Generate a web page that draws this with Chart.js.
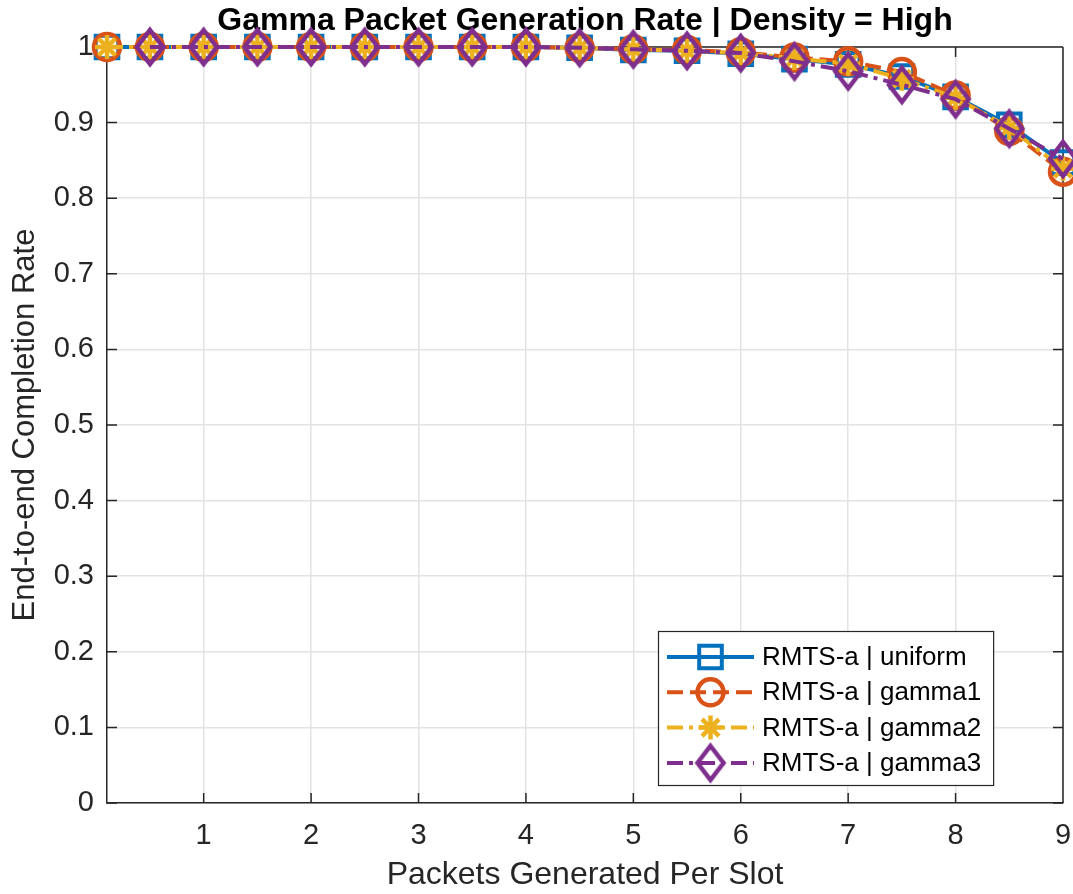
<!DOCTYPE html>
<html><head><meta charset="utf-8">
<script src="https://cdn.jsdelivr.net/npm/chart.js@4/dist/chart.umd.min.js"></script>
<style>html,body{margin:0;padding:0;background:#fff;}#wrap{width:1073px;height:894px;}</style>
</head><body><div id="wrap"><canvas id="c" width="1073" height="894"></canvas></div>
<script>
const xValues = [0.1,0.5,1,1.5,2,2.5,3,3.5,4,4.5,5,5.5,6,6.5,7,7.5,8,8.5,9];
const xTickValues = [1,2,3,4,5,6,7,8,9];
const seriesNames = ['RMTS-a | uniform','RMTS-a | gamma1','RMTS-a | gamma2','RMTS-a | gamma3'];
const uniform = [1,1,1,1,1,1,1,1,1,0.999,0.996,0.995,0.991,0.984,0.977,0.961,0.934,0.897,0.847];
const gamma1  = [1,1,1,1,1,1,1,1,1,0.999,0.997,0.996,0.993,0.986,0.981,0.967,0.936,0.889,0.835];
const gamma2  = [1,1,1,1,1,1,1,1,1,0.999,0.997,0.995,0.992,0.985,0.978,0.958,0.933,0.893,0.839];
const gamma3  = [null,1,1,1,1,1,1,1,1,0.999,0.997,0.995,0.992,0.981,0.968,0.950,0.931,0.892,0.852];

const FONT = '"Liberation Sans", Arial, Helvetica, sans-serif';
const C_BLUE='#0072BD', C_ORANGE='#D95319', C_YELLOW='#EDB120', C_PURPLE='#7E2F8E';

// elongated MATLAB-like diamond marker
const diamond = document.createElement('canvas');
diamond.width = 36; diamond.height = 46;
(function(){
  const g = diamond.getContext('2d');
  g.strokeStyle = C_PURPLE; g.lineWidth = 4.5; g.lineJoin = 'miter';
  g.beginPath(); g.moveTo(18,6); g.lineTo(31,23); g.lineTo(18,40); g.lineTo(5,23); g.closePath(); g.stroke();
})();

function pts(arr){ return xValues.map((x,i)=>({x:x, y:arr[i]})); }

const datasets = [
  {label:seriesNames[0], data:pts(uniform), borderColor:C_BLUE, backgroundColor:'rgba(0,0,0,0)', borderWidth:4,
   pointStyle:'rect', pointRadius:16, pointBorderWidth:4, pointBorderColor:C_BLUE, pointBackgroundColor:'rgba(0,0,0,0)', order:4, borderDash:[]},
  {label:seriesNames[1], data:pts(gamma1), borderColor:C_ORANGE, backgroundColor:'rgba(0,0,0,0)', borderWidth:4,
   pointStyle:'circle', pointRadius:13, pointBorderWidth:4.5, pointBorderColor:C_ORANGE, pointBackgroundColor:'rgba(0,0,0,0)', order:3, borderDash:[16,7]},
  {label:seriesNames[2], data:pts(gamma2), borderColor:C_YELLOW, backgroundColor:'rgba(0,0,0,0)', borderWidth:4,
   pointStyle:'star', pointRadius:12, pointBorderWidth:4.5, pointBorderColor:C_YELLOW, pointBackgroundColor:'rgba(0,0,0,0)', order:2, borderDash:[16,6,4,6]},
  {label:seriesNames[3], data:pts(gamma3), borderColor:C_PURPLE, backgroundColor:'rgba(0,0,0,0)', borderWidth:4,
   pointStyle:diamond, pointRadius:16, pointBorderWidth:4, pointBorderColor:C_PURPLE, pointBackgroundColor:'rgba(0,0,0,0)', order:1, borderDash:[16,6,4,6]}
];
datasets.forEach(d=>{ d.clip = false; d.tension = 0; d.spanGaps = false; d.pointHoverRadius = d.pointRadius; });

const matlabAxes = {
  id:'matlabAxes',
  beforeDatasetsDraw(chart){
    const ctx = chart.ctx, ca = chart.chartArea, xs = chart.scales.x, ys = chart.scales.y;
    ctx.save();
    ctx.strokeStyle = '#262626'; ctx.lineWidth = 1.5; ctx.setLineDash([]);
    ctx.beginPath();
    ctx.moveTo(ca.left, ca.top); ctx.lineTo(ca.right, ca.top);
    ctx.moveTo(ca.right, ca.top); ctx.lineTo(ca.right, ca.bottom);
    const tl = 10;
    xs.ticks.forEach(t=>{ const p = xs.getPixelForValue(t.value);
      ctx.moveTo(p, ca.bottom); ctx.lineTo(p, ca.bottom - tl);
      ctx.moveTo(p, ca.top); ctx.lineTo(p, ca.top + tl); });
    ys.ticks.forEach(t=>{ const p = ys.getPixelForValue(t.value);
      ctx.moveTo(ca.left, p); ctx.lineTo(ca.left + tl, p);
      ctx.moveTo(ca.right, p); ctx.lineTo(ca.right - tl, p); });
    ctx.stroke();
    ctx.restore();
  }
};

const insideLegend = {
  id:'insideLegend',
  afterDraw(chart){
    const ctx = chart.ctx, ca = chart.chartArea;
    ctx.save();
    ctx.font = '26px ' + FONT;
    const ds = chart.data.datasets;
    const tw = Math.max(...ds.map(d=>ctx.measureText(d.label).width));
    const w = 104 + tw + 12, h = 154;
    const x0 = Math.round(ca.right - 70 - w), y0 = Math.round(ca.bottom - 18 - h);
    ctx.fillStyle = '#fff'; ctx.fillRect(x0, y0, w, h);
    ctx.strokeStyle = '#262626'; ctx.lineWidth = 1.2; ctx.strokeRect(x0+0.5, y0+0.5, w, h);
    ds.forEach((d,i)=>{
      const y = y0 + 26 + i*35.3;
      ctx.strokeStyle = d.borderColor; ctx.lineWidth = d.borderWidth;
      ctx.setLineDash(d.borderDash || []);
      ctx.beginPath(); ctx.moveTo(x0+9, y); ctx.lineTo(x0+96, y); ctx.stroke();
      ctx.setLineDash([]);
      ctx.fillStyle = 'rgba(0,0,0,0)';
      ctx.strokeStyle = d.pointBorderColor; ctx.lineWidth = d.pointBorderWidth;
      Chart.helpers.drawPoint(ctx, {pointStyle:d.pointStyle, radius:d.pointRadius, rotation:0, borderWidth:d.pointBorderWidth}, x0+52.5, y);
      ctx.fillStyle = '#000'; ctx.textAlign = 'left'; ctx.textBaseline = 'middle';
      ctx.fillText(d.label, x0+104, y+1);
    });
    ctx.restore();
  }
};

new Chart(document.getElementById('c'), {
  type:'line',
  data:{datasets:datasets},
  options:{
    responsive:false, animation:false, devicePixelRatio:1, events:[],
    layout:{autoPadding:false, padding:{left:0,right:10,top:0,bottom:0}},
    plugins:{
      legend:{display:false}, tooltip:{enabled:false},
      title:{display:true, fullSize:false, text:'Gamma Packet Generation Rate | Density = High', color:'#000',
        font:{family:FONT, size:32, weight:'bold', lineHeight:1.2}, padding:{top:2,bottom:6.6}}
    },
    scales:{
      x:{type:'linear', min:0.1, max:9,
        afterBuildTicks:s=>{ s.ticks = xTickValues.map(v=>({value:v})); },
        afterFit:s=>{ s.height = 91; s.paddingLeft = 0; s.paddingRight = 0; },
        grid:{color:'#e3e3e3', lineWidth:1.5, drawTicks:false},
        border:{color:'#262626', width:1.5},
        ticks:{color:'#262626', font:{family:FONT, size:29}, padding:16, maxRotation:0, autoSkip:false,
          callback:v=>String(v)},
        title:{display:true, text:'Packets Generated Per Slot', color:'#262626', font:{family:FONT, size:32}, padding:{top:0,bottom:0}}
      },
      y:{type:'linear', min:0, max:1,
        afterFit:s=>{ s.width = 107; s.paddingTop = 0; s.paddingBottom = 0; },
        grid:{color:'#e3e3e3', lineWidth:1.5, drawTicks:false},
        border:{color:'#262626', width:1.5},
        ticks:{color:'#262626', font:{family:FONT, size:29}, padding:13, stepSize:0.1,
          callback:v=>String(Math.round(v*10)/10)},
        title:{display:true, text:'End-to-end Completion Rate', color:'#262626', font:{family:FONT, size:31}, padding:{top:7,bottom:0}}
      }
    }
  },
  plugins:[matlabAxes, insideLegend]
});
</script></body></html>
